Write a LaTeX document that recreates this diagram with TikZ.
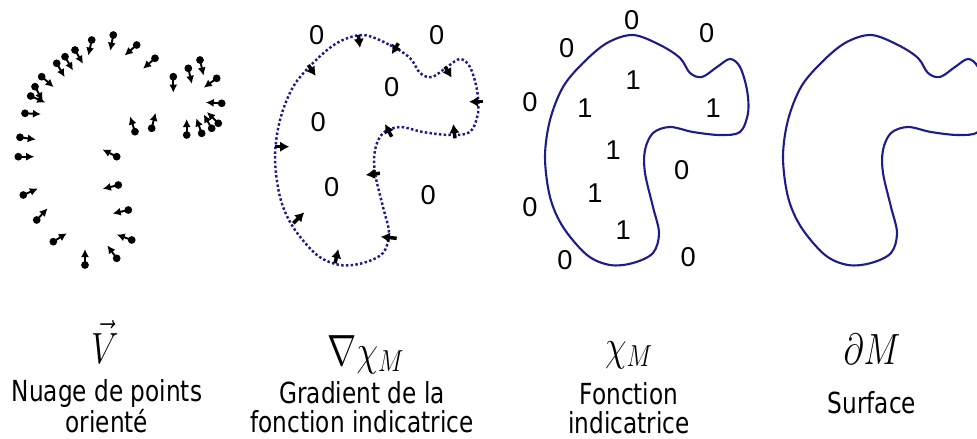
\documentclass[tikz,border=0pt]{standalone}
\usepackage{fontspec}
\newfontfamily\capfont{DejaVu Sans}
\newfontfamily\digfont{Liberation Sans}
\usetikzlibrary{arrows.meta}
\definecolor{navy}{RGB}{28,28,140}
\tikzset{
  vec/.style={line width=1.1pt, -{Latex[length=4.6pt,width=4.6pt]}},
  grad/.style={line width=2pt, -{Latex[length=5.2pt,width=6pt]}},
  val/.style={font=\digfont\fontsize{15.5}{15.5}\selectfont, inner sep=0pt},
  sym/.style={font=\fontsize{26}{26}\selectfont, xscale=0.8, inner sep=0pt},
  caption/.style={font=\capfont\fontsize{16.5}{16.5}\selectfont, align=center, xscale=0.8, inner sep=0pt},
  surfline/.style={navy, line width=1.2pt},
  gradline/.style={navy, line width=1.4pt, dash pattern=on 1.4pt off 1.3pt},
}

\begin{document}
\begin{tikzpicture}[x=0.02cm, y=0.02cm]
\useasboundingbox (0,0) rectangle (977,-439);

% the same outline, three times
\foreach \dx/\sty in {-270/gradline, 0/surfline, 238/surfline}
  \draw[\sty, shift={(\dx,0)}] plot[smooth cycle, tension=0.55] coordinates {
    (633,-35) (660,-45) (680,-58) (690,-73) (702,-77) (717,-67) (730,-59)
    (740,-67) (747,-90) (748,-113) (740,-132) (720,-135) (693,-132) (670,-127)
    (653,-133) (645,-150) (645,-173) (653,-207) (659,-233) (653,-253) (633,-263)
    (610,-265) (587,-255) (563,-227) (550,-197) (545,-157) (550,-120) (563,-87)
    (583,-63) (607,-43)};

% oriented points
\foreach \x/\y/\a in {18.3/156.7/0, 20/137.3/-8, 25/113.3/-3, 30.7/96/-24,
    35/86.7/-61, 41.7/76.7/-41, 56.7/63.3/-60, 65/56.7/-60, 75/50/-60,
    91.7/40/-102, 113.3/35/-101, 136.7/45/-139, 155/58.3/-139, 173.3/76.7/-90,
    188.3/68.3/-77, 200/60/-77, 216.7/78.3/-144, 221.7/103.3/177,
    218.3/123.3/135, 211.7/128.3/120, 201.7/133.3/110, 186.7/135/90,
    151.7/128.3/76, 135/131.7/108, 116.7/156.7/153, 118.3/185/-166,
    128.3/210/-167, 131.7/240/160, 116.7/258.3/126, 85/265/90,
    53.3/241.7/32, 36.7/220/47, 23.3/195/24}
{
  \fill (\x,-\y) circle[radius=2.2pt];
  \draw[vec] (\x,-\y) -- ++(\a:16);
}

% gradient arrows on the dotted outline
\foreach \x/\y/\u/\v in {358.3/35/360/48, 398.3/43.3/391.7/54.3, 308.3/65/315.7/76,
    445/66.7/451.7/77.7, 483.3/101.7/469/101.7, 455/138.3/453.3/124,
    391.7/136.7/385/124, 275/146.7/289.3/146.7, 380/173.3/365.7/175,
    293.3/223.3/304.3/212.3, 396.7/238.3/380.7/236.7, 335/263.3/338.3/249}
  \draw[grad] (\x,-\y) -- (\u,-\v);

% values
\foreach \x/\y [count=\i] in {316.7/35, 436.7/35, 391.7/86.7, 318.3/121.7,
    331.7/186.7, 428.3/195}
  \node[val] (g\i) at (\x,-\y) {0};
\foreach \x/\y [count=\i] in {631.7/20, 706.7/33.3, 566.7/48.3, 530/101.7,
    530/206.7, 565/260, 688.3/256.7, 681.7/170}
  \node[val] (o\i) at (\x,-\y) {0};
\foreach \x/\y [count=\i] in {633.3/80, 585/108.3, 713.3/108.3, 613.3/150,
    595/193.3, 623.3/230}
  \node[val] (l\i) at (\x,-\y) {1};

% symbols
\node[sym, anchor=base] (symV) at (105,-363) {$\vec{V}$};
\node[sym, anchor=base] (symgrad) at (366,-365) {$\nabla\chi_M$};
\node[sym, anchor=base] (symchi) at (629,-360) {$\chi_M$};
\node[sym, anchor=base] (symsurf) at (872,-364) {$\partial M$};

% captions (base = last line)
\node[caption, anchor=base] (capV) at (107,-432) {Nuage de points\\orienté};
\node[caption, anchor=base] (capgrad) at (362,-432) {Gradient de la\\fonction indicatrice};
\node[caption, anchor=base] (capchi) at (629,-433) {Fonction\\indicatrice};
\node[caption, anchor=base] (capsurf) at (872,-413) {Surface};
\end{tikzpicture}
\end{document}
